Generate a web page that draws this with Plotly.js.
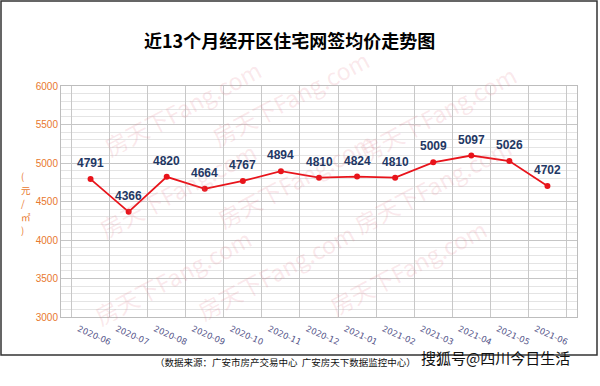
<!DOCTYPE html>
<html>
<head>
<meta charset="utf-8">
<script src="https://cdn.plot.ly/plotly-3.0.1.min.js"></script>
<style>html,body{margin:0;padding:0;background:#fff;}#chart{width:600px;height:386px;}</style>
</head>
<body>
<div id="chart"></div>
<script>
const months = ["2020-06","2020-07","2020-08","2020-09","2020-10","2020-11","2020-12","2021-01","2021-02","2021-03","2021-04","2021-05","2021-06"];
const prices = [4791, 4366, 4820, 4664, 4767, 4894, 4810, 4824, 4810, 5009, 5097, 5026, 4702];
const titleText = "近13个月经开区住宅网签均价走势图";
const yTitleChars = ["(", "元", "/", "㎡", ")"];
const sourceText = "（数据来源：广安市房产交易中心  广安房天下数据监控中心）";
const brandText = "搜狐号@四川今日生活";
const watermarkText = "房天下Fang.com";

const W = 600, H = 386;
const M = {l: 61, r: 23, t: 86, b: 69};
const pw = W - M.l - M.r, ph = H - M.t - M.b;
const px = x => (x - M.l) / pw;
const py = y => (H - M.b - y) / ph;

const annotations = [];
// watermarks
const wmPos = [[95,50],[290,40],[525,55],[90,190],[295,180],[520,185],[85,335],[275,330],[495,325]];
wmPos.forEach(p => annotations.push({
  xref:'paper', yref:'paper', x: px(p[0]), y: py(p[1]), text: watermarkText, showarrow:false,
  textangle: -28, font:{family:'Noto Sans CJK SC, Liberation Sans', size:23, color:'rgba(226,120,135,0.17)'}
}));
// data labels
months.forEach((m, i) => annotations.push({
  x: m, y: prices[i], xref:'x', yref:'y', text: String(prices[i]), showarrow:false, yshift: 16,
  font:{family:'Liberation Sans, Arial', size:12, color:'#1F3864', weight:700}
}));
// y title, stacked characters
yTitleChars.forEach((c, i) => annotations.push({
  xref:'paper', yref:'paper', x: px(20), y: py(176 + i * 13.5), text: c, showarrow:false, borderpad:0,
  font:{family:'Noto Sans CJK SC', size:9.5, color:'#E8782E'}
}));
// footer
annotations.push({xref:'paper', yref:'paper', x: px(418), y: py(371), xanchor:'right', text: sourceText, showarrow:false,
  font:{family:'Noto Sans CJK SC', size:9.5, color:'#111'}});
annotations.push({xref:'paper', yref:'paper', x: px(419), y: py(370), xanchor:'left', text: brandText, showarrow:false,
  font:{family:'Noto Sans CJK SC', size:15, color:'#111'}});

const data = [{
  x: months, y: prices, type:'scatter', mode:'lines+markers',
  line:{color:'#E8141B', width:1.8},
  marker:{color:'#E8141B', size:6},
  hoverinfo:'skip'
}];

const layout = {
  width: W, height: H,
  margin: M,
  paper_bgcolor:'#ffffff', plot_bgcolor:'#ffffff',
  showlegend:false,
  title:{text: titleText, x: px(310), xanchor:'center', y: 1 - 42/H, yanchor:'middle',
    font:{family:'Noto Sans CJK SC', size:18, color:'#000', weight:700}},
  xaxis:{type:'category', tickson:'boundaries', showgrid:true, gridcolor:'#C8C8C8', gridwidth:1,
    showline:true, linecolor:'#BDBDBD', mirror:true, ticks:'', tickangle:24,
    ticklabelshift:-12, ticklabelstandoff:3,
    tickfont:{family:'DejaVu Sans', size:8.5, color:'#55558A'}, zeroline:false},
  yaxis:{range:[3000,6000], dtick:500, tick0:3000, showgrid:true, gridcolor:'#C6C6C6',
    minor:{dtick:100, showgrid:true, gridcolor:'#E4E4E4'},
    showline:true, linecolor:'#BDBDBD', mirror:true, ticks:'', zeroline:false,
    tickfont:{family:'Liberation Sans', size:10, color:'#E8782E'}},
  annotations: annotations,
  shapes:[{type:'rect', xref:'paper', yref:'paper', x0: px(1), x1: px(597), y0: py(355), y1: py(1),
    line:{color:'#333', width:1.5}, fillcolor:'rgba(0,0,0,0)', layer:'above'}]
};

Plotly.newPlot('chart', data, layout, {staticPlot:true, displayModeBar:false});
</script>
</body>
</html>
